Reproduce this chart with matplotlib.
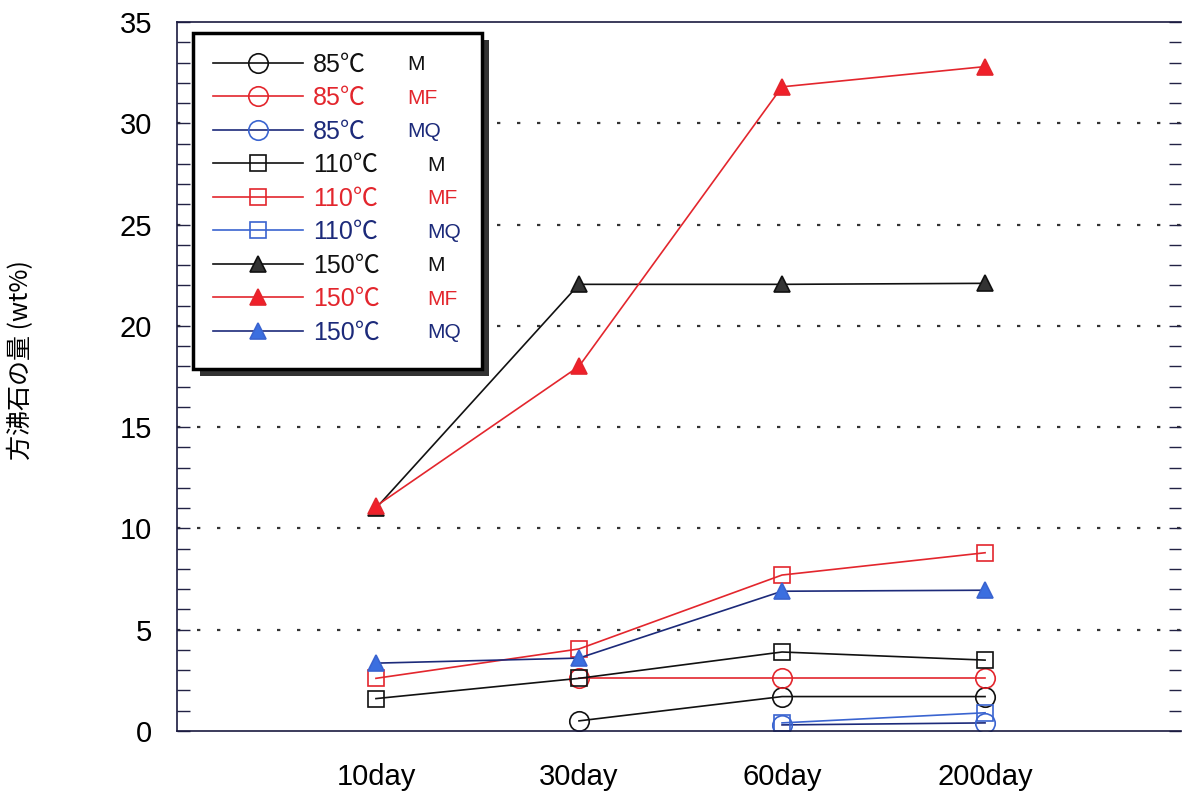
import matplotlib
matplotlib.use("Agg")
import matplotlib.pyplot as plt
import matplotlib.patheffects as pe
from matplotlib.patches import Rectangle
from matplotlib.ticker import MultipleLocator

plt.rcParams['font.family'] = ['Liberation Sans', 'Noto Sans CJK JP', 'DejaVu Sans']

# 試験期間
days = ['10day', '30day', '60day', '200day']

# 方沸石の量 (wt%)  None = 測定なし
m85 = [None, 0.5, 1.7, 1.7]
mf85 = [None, 2.6, 2.6, 2.6]
mq85 = [None, None, 0.3, 0.4]
m110 = [1.6, 2.6, 3.9, 3.5]
mf110 = [2.6, 4.05, 7.7, 8.8]
mq110 = [None, None, 0.4, 0.9]
m150 = [11.0, 22.05, 22.05, 22.1]
mf150 = [11.1, 18.0, 31.8, 32.8]
mq150 = [3.35, 3.6, 6.9, 6.95]

temps = ['85℃', '85℃', '85℃', '110℃', '110℃', '110℃', '150℃', '150℃', '150℃']
samples = ['M', 'MF', 'MQ', 'M', 'MF', 'MQ', 'M', 'MF', 'MQ']

black = '#111111'
red = '#e3262d'
navy = '#1c2a7a'
blue = '#3a64d0'

fig = plt.figure(figsize=(11.83, 7.95), dpi=100)
ax = fig.add_axes([0.1496, 0.0805, 0.8487, 0.8918])

x = range(len(days))


def pts(vals):
    xs = [i for i, v in zip(x, vals) if v is not None]
    ys = [v for v in vals if v is not None]
    return xs, ys


# (値, 線色, マーカー, 面色, 縁色, 文字色, マーカーサイズ)
series = [
    (m85, black, 'o', 'none', black, black, 14),
    (mf85, red, 'o', 'none', red, red, 14),
    (mq85, navy, 'o', 'none', blue, navy, 14),
    (m110, black, 's', 'none', black, black, 12),
    (mf110, red, 's', 'none', red, red, 12),
    (mq110, blue, 's', 'none', blue, navy, 12),
    (m150, black, '^', '#333333', black, black, 12),
    (mf150, red, '^', '#f0202a', red, red, 12),
    (mq150, navy, '^', '#3b6fe0', blue, navy, 12),
]

handles = []
for vals, lc, mk, fc, ec, tc, ms in series:
    xs, ys = pts(vals)
    h, = ax.plot(xs, ys, color=lc, lw=1.2, marker=mk, markersize=ms,
                 markerfacecolor=fc, markeredgecolor=ec, markeredgewidth=1.2)
    handles.append(h)

ax.set_xlim(-0.98, 3.965)
ax.set_ylim(0, 35)
ax.set_xticks(list(x))
ax.set_xticklabels(days, fontsize=21)
ax.tick_params(axis='x', length=0, pad=23)
ax.yaxis.set_major_locator(MultipleLocator(5))
ax.yaxis.set_minor_locator(MultipleLocator(1))
ax.tick_params(axis='y', which='both', direction='in', right=True, length=9,
               width=1, labelsize=21, pad=18, color='#222244')
ax.spines['right'].set_visible(False)
for s in ['left', 'bottom', 'top']:
    ax.spines[s].set_color('#1a1a40')
    ax.spines[s].set_linewidth(1.2)

for v in range(5, 35, 5):
    ax.axhline(v, color='#333333', lw=1.6, ls=(0, (1.5, 7.5)), zorder=0.5)

ax.set_ylabel('方沸石の量 (wt%)', fontsize=18, family=['Noto Sans CJK JP'])
ax.yaxis.set_label_coords(-0.142, 0.523)

# 凡例の枠 (影付き)
box = Rectangle((0.016, 0.51), 0.288, 0.475, transform=ax.transAxes,
                facecolor='white', edgecolor='black', lw=2.5, zorder=4)
box.set_path_effects([pe.SimplePatchShadow(offset=(5, -5),
                                           shadow_rgbFace='#333333', alpha=1),
                      pe.Normal()])
ax.add_patch(box)

leg = ax.legend(handles, temps, loc='upper left',
                bbox_to_anchor=(0.016, 0.985), borderaxespad=0,
                fontsize=18, handlelength=3.6, handletextpad=0.4,
                labelspacing=0.38, borderpad=0.8, frameon=False)

for t, tc, smp, tmp in zip(leg.get_texts(), [s[5] for s in series], samples, temps):
    t.set_color(tc)
    off = 68 if tmp == '85℃' else 82
    ax.annotate(smp, xy=(0, 0.5), xycoords=t, xytext=(off, 0),
                textcoords='offset points', va='center', ha='left',
                fontsize=15, color=tc, zorder=10,
                annotation_clip=False)

fig.savefig('out.png', dpi=100)
